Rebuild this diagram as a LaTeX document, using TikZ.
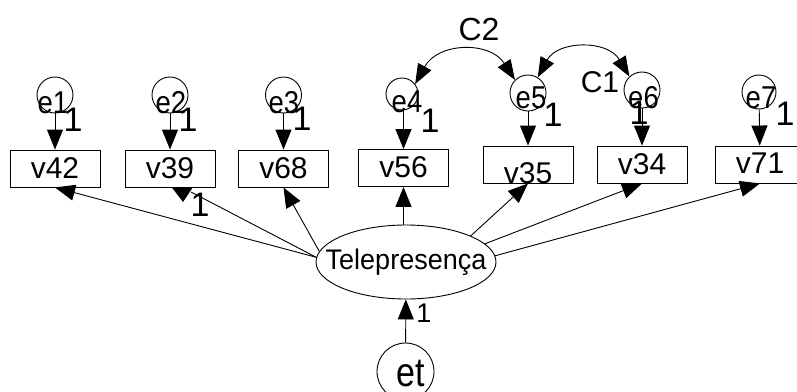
\documentclass[tikz,border=0pt]{standalone}
\usepackage{fontspec}
\setmainfont{Liberation Sans}
\usetikzlibrary{arrows.meta,shapes.geometric}
% taller glyphs for the short labels
\newcommand\tallt[2][1.15]{\scalebox{1}[#1]{#2}}
\begin{document}
\begin{tikzpicture}[x=1pt,y=-1pt,line width=0.9pt,
  arr/.style={-{Triangle[length=20pt,width=16pt]}},
  dbl/.style={{Triangle[length=20pt,width=15pt]}-{Triangle[length=20pt,width=15pt]}},
  obs/.style={draw,rectangle,minimum width=90pt,minimum height=37pt,inner sep=0pt,
    text height=28pt,text depth=9pt,font=\fontsize{30}{30}\selectfont},
  err/.style={draw,circle,minimum size=36pt,inner sep=0pt},
  elab/.style={anchor=base,inner sep=0pt,font=\fontsize{27.5}{27.5}\selectfont},
  one/.style={anchor=base,inner sep=0pt,font=\fontsize{34}{34}\selectfont},
  cov/.style={anchor=base,inner sep=0pt,font=\fontsize{32}{32}\selectfont},
]
\useasboundingbox (0,0) rectangle (797,391);
\clip (0,0) rectangle (797,391);

% observed variables
\node[obs] (v42) at (55,168.5) {v42};
\node[obs] (v39) at (170,168.5) {v39};
\node[obs] (v68) at (283.5,168.5) {v68};
\node[obs] (v56) at (403.5,168) {v56};
\node[obs,text height=37pt,text depth=0pt] (v35) at (528,164.5) {v35};
\node[obs] (v34) at (642,164.5) {v34};
\node[obs,text depth=10pt,text height=27pt] (v71) at (760,164.5) {v71};

% error terms
\node[err] (e1) at (55,95) {};
\node[err] (e2) at (170,95) {};
\node[err] (e3) at (283.5,95) {};
\node[err,minimum size=32pt] (e4) at (402,94) {};
\node[err] (e5) at (528,93) {};
\node[err] (e6) at (642,90) {};
\node[err,minimum size=34pt] (e7) at (759,92) {};

\node[elab] (te1) at (53,113) {\tallt{e1}};
\node[elab] (te2) at (171,113) {\tallt{e2}};
\node[elab] (te3) at (284,113) {\tallt{e3}};
\node[elab] (te4) at (407,112) {\tallt{e4}};
\node[elab] (te5) at (531,108) {\tallt{e5}};
\node[elab] (te6) at (643.5,108) {\tallt{e6}};
\node[elab] (te7) at (761,108) {\tallt{e7}};

% latent factor and its disturbance
\node[draw,ellipse,minimum width=180pt,minimum height=74pt,inner sep=0pt] (T) at (406,262) {};
\node[inner sep=0pt,font=\fontsize{27}{27}\selectfont] (tT) at (T) {\tallt[1.05]{Telepresença}};
\node[err,minimum size=57pt] (et) at (405.5,371.5) {};
\node[anchor=base,inner sep=0pt,font=\fontsize{34}{34}\selectfont] (tet) at (411,386) {\tallt[1.2]{et}};

% error paths
\draw[arr] (e1) -- (v42);
\draw[arr] (e2) -- (v39);
\draw[arr] (e3) -- (v68);
\draw[arr] (e4.south -| v56.north) -- (v56);
\draw[arr] (e5) -- (v35);
\draw[arr] (e6) -- (v34);
\draw[arr] (e7) -- (v71);
\draw[arr] (et) -- (T);

% loadings
\draw[arr] (T.177) -- (v42.south);
\coordinate (h39) at (191,192);
\draw (T.177) -- (h39);
\fill (171.5,187) -- (193,187) -- (183,202) -- cycle;
\draw[arr] (T.173.5) -- (v68.south);
\draw[arr] (T.north -| v56.south) -- (v56.south);
\draw[arr] (T.22) -- (v35.south);
\draw[arr] (T.13) -- (v34.south);
\draw[arr] (T.4.5) -- (v71.south);

% covariances
\draw[dbl] (e4.37) .. controls +(23,-42) and +(-25,-39) .. (e5.135);
\draw[dbl] (e5.58) .. controls +(20,-37) and +(-22,-37) .. (e6.133);
\node[cov] (c2) at (479,40) {C2};
\node[cov,font=\fontsize{30}{30}\selectfont] (c1) at (600,92) {C1};

% fixed parameters
\node[one] (o1) at (73,131) {1};
\node[one] (o2) at (188,131) {1};
\node[one] (o3) at (302,130) {1};
\node[one] (o4) at (430,132) {1};
\node[one] (o5) at (553,126) {1};
\node[one] (o6) at (639,124) {1};
\node[one] (o7) at (785,125) {1};
\node[one] (o39) at (200,216) {1};
\node[one,font=\fontsize{27}{27}\selectfont] (oet) at (424,322) {1};
\end{tikzpicture}
\end{document}
